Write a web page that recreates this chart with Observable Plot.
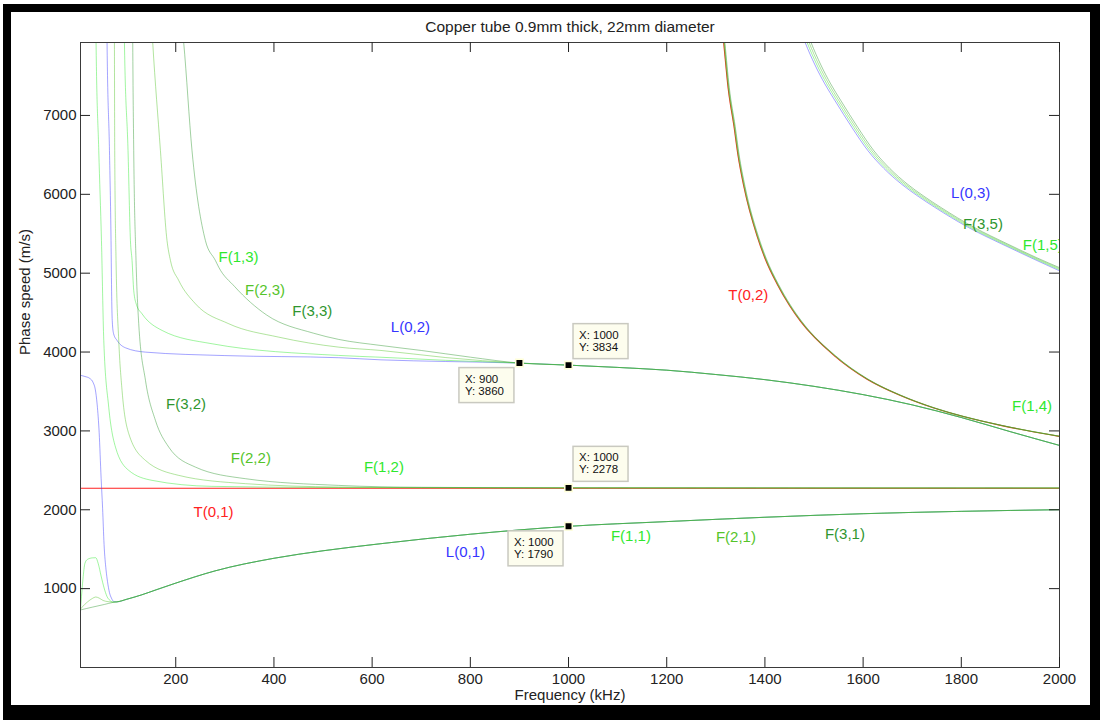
<!DOCTYPE html>
<html><head><meta charset="utf-8">
<script src="https://cdn.jsdelivr.net/npm/d3@7"></script>
<script src="https://cdn.jsdelivr.net/npm/@observablehq/plot@0.6"></script>
<style>
html,body{margin:0;padding:0;background:#fff;width:1100px;height:720px;overflow:hidden;}
#chart{position:absolute;left:0;top:0;}
#frame{position:absolute;left:3px;top:4px;width:1097px;height:716px;box-sizing:border-box;border-style:solid;border-color:#000;border-width:8px 10px 15px 8px;pointer-events:none;}
</style></head><body>
<div id="chart"></div><div id="frame"></div>
<script>
// ---------- text ----------
const title = "Copper tube 0.9mm thick, 22mm diameter";
const xLabel = "Frequency (kHz)";
const yLabel = "Phase speed (m/s)";
const xTicks = [200, 400, 600, 800, 1000, 1200, 1400, 1600, 1800, 2000];
const yTicks = [1000, 2000, 3000, 4000, 5000, 6000, 7000];

// ---------- curves: [frequency kHz, phase speed m/s] ----------
// group 1 (shared rising branch)
const rise1 = [[80,832],[100,865],[130,920],[160,985],[200,1070],[280,1225],[400,1385],[500,1480],[618,1570],[800,1690],[1000,1790],[1200,1850],[1400,1905],[1600,1950],[1800,1980],[2000,2001]];
const L01 = [[6,3705],[15,3690],[25,3665],[32,3610],[36,3530],[40,3330],[44,2980],[48,2400],[51,2020],[54,1560],[58,1240],[61,1090],[65,950],[69,880],[74,836]];
const F11 = [[6,740],[8,900],[11,1120],[15,1320],[20,1370],[30,1390],[37,1392],[42,1320],[48,1160],[54,1010],[60,900],[66,850],[72,830]];
const F21 = [[6,740],[10,770],[20,830],[30,875],[37,894],[44,880],[52,850],[62,835],[72,830]];
const F31 = [[6,730],[30,765],[55,800],[72,825]];
// group 2
const T01 = [[6,2272],[2000,2272]];
const F12 = [[36.5,8600],[37.7,7924],[43.2,6555],[48.7,5414],[53.4,4148],[63.5,3302],[77.2,2795],[104.3,2499],[151.7,2373],[273.3,2297],[532,2282],[1000,2278],[2000,2276]];
const F22 = [[74.8,8600],[75.1,7924],[75.7,6555],[78.4,5161],[83.9,4148],[90.6,3515],[104.3,2965],[138.3,2626],[206.1,2436],[341.9,2331],[532,2288],[700,2281],[1000,2278],[2000,2276]];
const F32 = [[111.8,8600],[112.4,7924],[114.4,6555],[119.1,5161],[124.6,4359],[138.3,3642],[158.6,3133],[185.7,2795],[240.1,2541],[341.9,2394],[532,2309],[700,2285],[1000,2278],[2000,2276]];
// group 3 (shared high-frequency branch)
const conv3 = [[900,3860],[1000,3834],[1100,3805],[1200,3770],[1300,3715],[1400,3650],[1500,3565],[1600,3460],[1700,3330],[1800,3170],[1900,2990],[2000,2816]];
const L02 = [[59.5,8600],[60.1,7924],[65,6555],[68.2,5414],[69.5,4700],[70.8,4380],[73.5,4230],[80.4,4148],[97.5,4054],[138.3,3999],[300,3955],[532,3928],[618,3901],[750,3880]];
const F13 = [[94.8,8600],[95.5,7924],[102.8,6555],[107.7,5414],[111,5161],[114.4,4781],[120,4600],[131.3,4485],[172.1,4274],[273.9,4105],[532,3957],[618,3934],[750,3895]];
const F23 = [[147,8600],[153.1,7924],[168.8,6555],[182.2,5414],[189.2,5161],[206.1,4907],[240.1,4612],[307.9,4359],[409.7,4189],[532,4062],[618,4020],[750,3930]];
const F33 = [[205,8600],[216.2,7924],[233.1,6555],[260.4,5414],[280.8,5161],[287.5,5076],[320,4830],[385,4470],[480,4240],[532,4160],[618,4083],[700,4020],[800,3935]];
// group 4
const T02 = [[1311,8250],[1316,7924],[1325,7350],[1337,6860],[1345,6500],[1357,6100],[1384,5470],[1400,5190],[1425,4860],[1450,4590],[1473,4385],[1541,3955],[1608,3655],[1676,3448],[1744,3290],[1800,3188],[1880,3070],[2000,2930]];
const F14 = [[1311.5,8250],[1316.5,7924],[1325.5,7350],[1337.5,6860],[1345.5,6500],[1357.5,6100],[1384.5,5470],[1400.5,5190],[1425.5,4860],[1450.5,4590],[1473.5,4385],[1541.5,3955],[1608.5,3655],[1676.5,3448],[1744.5,3290],[1800.5,3188],[1880.5,3070],[2000,2931]];
const F24 = [[1312.5,8250],[1317.5,7924],[1326.5,7350],[1338.5,6860],[1346.5,6500],[1358.5,6100],[1385.5,5470],[1401.5,5190],[1426.5,4860],[1451.5,4590],[1474.5,4385],[1542.5,3955],[1609.5,3655],[1677.5,3448],[1745.5,3290],[1801.5,3188],[1881.5,3070],[2000,2932]];
const F34 = [[1313.5,8250],[1318.5,7924],[1327.5,7350],[1339.5,6860],[1347.5,6500],[1359.5,6100],[1386.5,5470],[1402.5,5190],[1427.5,4860],[1452.5,4590],[1475.5,4385],[1543.5,3955],[1610.5,3655],[1678.5,3448],[1746.5,3290],[1802.5,3188],[1882.5,3070],[2000,2933]];
// group 5
const L03 = [[1464,8230],[1482,7924],[1502,7640],[1522,7400],[1543,7185],[1577,6850],[1610,6552],[1642,6330],[1678,6130],[1712,5975],[1746,5835],[1814,5581],[1882,5371],[1942,5195],[2000,5030]];
const F15 = [[1468,8230],[1486,7924],[1506,7640],[1526,7400],[1547,7185],[1581,6850],[1614,6552],[1646,6330],[1682,6130],[1716,5975],[1750,5835],[1818,5581],[1886,5371],[1946,5195],[2000,5044]];
const F25 = [[1472,8230],[1490,7924],[1510,7640],[1530,7400],[1551,7185],[1585,6850],[1618,6552],[1650,6330],[1686,6130],[1720,5975],[1754,5835],[1822,5581],[1890,5371],[1950,5195],[2000,5057]];
const F35 = [[1476,8230],[1494,7924],[1514,7640],[1534,7400],[1555,7185],[1589,6850],[1622,6552],[1654,6330],[1690,6130],[1724,5975],[1758,5835],[1826,5581],[1894,5371],[1954,5195],[2000,5070]];

// ---------- mode labels ----------
const labelText = ["F(1,3)","F(2,3)","F(3,3)","L(0,2)","F(3,2)","F(2,2)","F(1,2)","T(0,1)","L(0,1)","F(1,1)","F(2,1)","F(3,1)","T(0,2)","L(0,3)","F(3,5)","F(1,5)","F(1,4)"];
const labelFreq = [328, 382, 478, 678, 221, 353, 624, 277, 790, 1127, 1341, 1563, 1366, 1819, 1844, 1966, 1944];
const labelSpeed = [5208, 4784, 4518, 4312, 3340, 2654, 2541, 1971, 1464, 1659, 1654, 1688, 4724, 6010, 5626, 5357, 3317];

// ---------- data tips ----------
const tipFreq = [900, 1000, 1000, 1000];
const tipSpeed = [3860, 3834, 2278, 1790];

// ---------- colours ----------
const families = ["L", "T", "F1", "F2", "F3"];
const familyColors = ["#3535ff", "#ff2222", "#2ee82e", "#55c42a", "#2f962f"];

// ---------- build tables ----------
const modeList = [
  ["T(0,1)", T01], ["T(0,2)", T02],
  ["L(0,1)", L01.concat(rise1)], ["L(0,2)", L02.concat(conv3)], ["L(0,3)", L03],
  ["F(1,1)", F11.concat(rise1)], ["F(1,2)", F12], ["F(1,3)", F13.concat(conv3)], ["F(1,4)", F14], ["F(1,5)", F15],
  ["F(2,1)", F21.concat(rise1)], ["F(2,2)", F22], ["F(2,3)", F23.concat(conv3)], ["F(2,4)", F24], ["F(2,5)", F25],
  ["F(3,1)", F31.concat(rise1)], ["F(3,2)", F32], ["F(3,3)", F33.concat(conv3)], ["F(3,4)", F34], ["F(3,5)", F35]
];
const familyOf = name => name[0] === "F" ? "F" + name[2] : name[0];
const rows = modeList.flatMap(([mode, pts]) => pts.map(([f, v]) => ({mode, family: familyOf(mode), f, v})));
const tRows = rows.filter(d => d.family === "T");
const otherRows = rows.filter(d => d.family !== "T");
const labels = labelText.map((t, i) => ({t, family: familyOf(t), f: labelFreq[i], v: labelSpeed[i]}));
const tips = tipFreq.map((f, i) => ({f, v: tipSpeed[i]}));
const tipSide = ["sw", "ne", "ne", "sw"];

const FONT = "'Liberation Sans', Arial, Helvetica, sans-serif";

function tipBoxes(index, scales) {
  const g = d3.create("svg:g");
  tips.forEach((d, i) => {
    const cx = scales.x(d.f), cy = scales.y(d.v);
    const sw = tipSide[i] === "sw";
    const bx = sw ? cx - 60 : cx + 5, by = sw ? cy + 5 : cy - 41;
    g.append("rect").attr("x", bx).attr("y", by).attr("width", 55).attr("height", 35)
      .attr("fill", "#fdfdee").attr("stroke", "#c9c9c0").attr("stroke-width", 1.5);
    const t = g.append("text").attr("font-family", FONT).attr("font-size", 11.5)
      .attr("fill", "#111").attr("text-anchor", "start");
    t.append("tspan").attr("x", bx + 6).attr("y", by + 15).text(`X: ${d.f}`);
    t.append("tspan").attr("x", bx + 6).attr("y", by + 27).text(`Y: ${d.v}`);
  });
  return g.node();
}

const chart = Plot.plot({
  width: 1100, height: 720,
  marginLeft: 80, marginRight: 41, marginTop: 42, marginBottom: 53,
  style: {fontFamily: FONT, fontSize: "15px", background: "transparent", color: "#222"},
  x: {domain: [6, 2000], ticks: xTicks, tickSize: 0, tickPadding: 6, tickFormat: d => `${d}`, label: null},
  y: {domain: [0, 7925], ticks: yTicks, tickSize: 0, tickPadding: 4, tickFormat: d => `${d}`, label: null},
  color: {domain: families, range: familyColors},
  marks: [
    Plot.line(tRows, {x: "f", y: "v", z: "mode", stroke: "family", strokeWidth: 1.1, curve: "monotone-x", clip: true}),
    Plot.line(otherRows, {x: "f", y: "v", z: "mode", stroke: "family", strokeWidth: 1, strokeOpacity: 0.45, curve: "monotone-x", clip: true}),
    Plot.text(labels, {x: "f", y: "v", text: "t", fill: "family", fontSize: 15, clip: true}),
    tipBoxes,
    Plot.dot(tips, {x: "f", y: "v", symbol: "square", r: 4.2, fill: "#000", stroke: "#ffffd8", strokeWidth: 1.5}),
    Plot.frame({stroke: "#3a3a3a"}),
    Plot.tickX(xTicks, {x: d => d, insetTop: 615, stroke: "#222"}),
    Plot.tickX(xTicks, {x: d => d, insetBottom: 615, stroke: "#222"}),
    Plot.tickY(yTicks, {y: d => d, insetRight: 969, stroke: "#222"}),
    Plot.tickY(yTicks, {y: d => d, insetLeft: 969, stroke: "#222"}),
    Plot.text([title], {text: d => d, frameAnchor: "top", lineAnchor: "middle", dy: -15, fontSize: 15.5, fill: "#222"}),
    Plot.text([xLabel], {text: d => d, frameAnchor: "bottom", lineAnchor: "middle", dy: 28, fontSize: 15, fill: "#222"}),
    Plot.text([yLabel], {text: d => d, frameAnchor: "left", lineAnchor: "middle", dx: -55, rotate: -90, fontSize: 15, fill: "#222"})
  ]
});
document.getElementById("chart").appendChild(chart);
</script></body></html>
